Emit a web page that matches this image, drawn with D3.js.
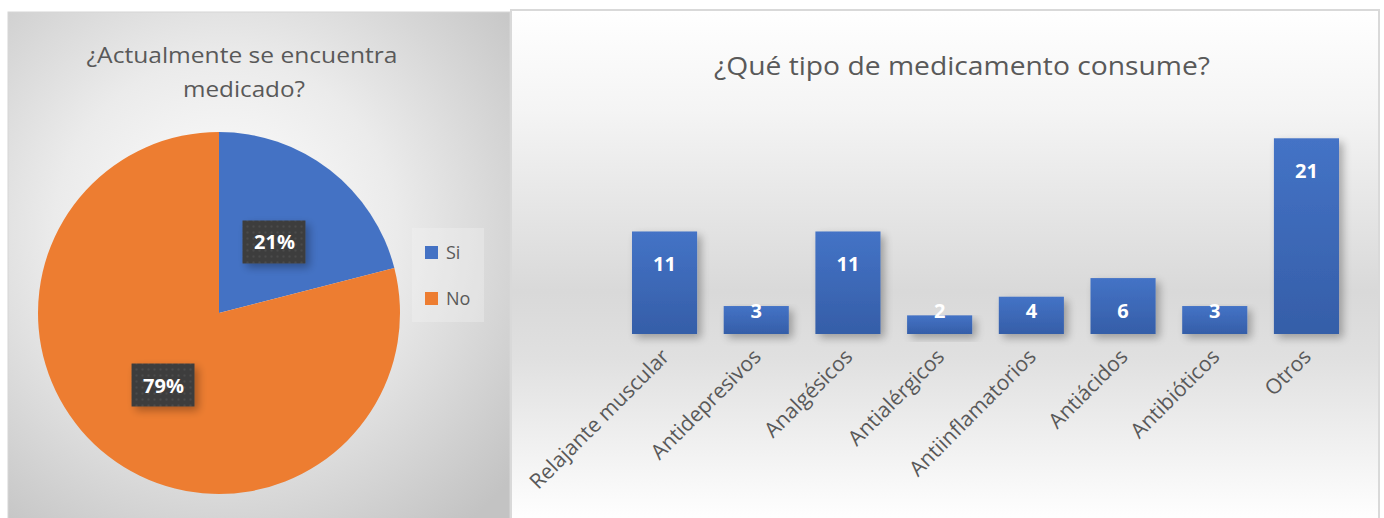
<!DOCTYPE html>
<html>
<head>
<meta charset="utf-8">
<script src="https://cdn.jsdelivr.net/npm/d3@7"></script>
<style>
  body { margin: 0; background: #ffffff; }
  svg { display: block; font-family: "Open Sans", Lato, sans-serif; }
</style>
</head>
<body>
<script>
// pie data
var pieLabels = ["Si", "No"];
var pieValues = [21, 79];
var pieColors = ["#4472c4", "#ed7d31"];

// bar data
var barCats = ["Relajante muscular", "Antidepresivos", "Analgésicos", "Antialérgicos",
               "Antiinflamatorios", "Antiácidos", "Antibióticos", "Otros"];
var barValues = [11, 3, 11, 2, 4, 6, 3, 21];

var W = 1384, H = 518;
var svg = d3.select("body").append("svg").attr("width", W).attr("height", H);
var defs = svg.append("defs");

// backgrounds
var rg = defs.append("radialGradient").attr("id", "pieBg")
  .attr("gradientUnits", "userSpaceOnUse")
  .attr("cx", 225).attr("cy", 230).attr("r", 380);
rg.append("stop").attr("offset", "0%").attr("stop-color", "#ffffff");
rg.append("stop").attr("offset", "45%").attr("stop-color", "#ebebeb");
rg.append("stop").attr("offset", "100%").attr("stop-color", "#c3c3c3");

var lg = defs.append("linearGradient").attr("id", "barBg")
  .attr("x1", 0).attr("y1", 0).attr("x2", 0).attr("y2", 1);
lg.append("stop").attr("offset", "0%").attr("stop-color", "#ffffff");
lg.append("stop").attr("offset", "20%").attr("stop-color", "#f4f4f4");
lg.append("stop").attr("offset", "55%").attr("stop-color", "#d9d9d9");
lg.append("stop").attr("offset", "68%").attr("stop-color", "#e0e0e0");
lg.append("stop").attr("offset", "100%").attr("stop-color", "#ffffff");

var bg = defs.append("linearGradient").attr("id", "barFill")
  .attr("x1", 0).attr("y1", 0).attr("x2", 0).attr("y2", 1);
bg.append("stop").attr("offset", "0%").attr("stop-color", "#4473c6");
bg.append("stop").attr("offset", "100%").attr("stop-color", "#355ea8");

var sh = defs.append("filter").attr("id", "shadow")
  .attr("x", "-20%").attr("y", "-20%").attr("width", "160%").attr("height", "160%");
sh.append("feGaussianBlur").attr("in", "SourceAlpha").attr("stdDeviation", 4);
sh.append("feOffset").attr("dx", 4).attr("dy", 4).attr("result", "b");
sh.append("feComponentTransfer").append("feFuncA").attr("type", "linear").attr("slope", 0.3);
var m = sh.append("feMerge");
m.append("feMergeNode");
m.append("feMergeNode").attr("in", "SourceGraphic");

var pat = defs.append("pattern").attr("id", "dots")
  .attr("patternUnits", "userSpaceOnUse").attr("width", 6).attr("height", 6);
pat.append("rect").attr("width", 6).attr("height", 6).attr("fill", "#3d3d3d");
pat.append("circle").attr("cx", 3).attr("cy", 3).attr("r", 1).attr("fill", "#4f4f4f");

// ---------- left: pie ----------
svg.append("rect").attr("x", 8).attr("y", 12).attr("width", 502).attr("height", 510)
  .attr("fill", "url(#pieBg)").attr("stroke", "#d6d6d6").attr("stroke-width", 1);

svg.append("text").attr("x", 242).attr("y", 63).attr("text-anchor", "middle")
  .attr("font-size", 21).attr("fill", "#595959")
  .attr("textLength", 311).attr("lengthAdjust", "spacingAndGlyphs")
  .text("¿Actualmente se encuentra");
svg.append("text").attr("x", 244).attr("y", 97).attr("text-anchor", "middle")
  .attr("font-size", 21).attr("fill", "#595959")
  .attr("textLength", 122).attr("lengthAdjust", "spacingAndGlyphs")
  .text("medicado?");

var cx = 219, cy = 313, R = 181;
var pie = d3.pie().sort(null).value(function(d){ return d; });
var arcs = pie(pieValues);
var arc = d3.arc().innerRadius(0).outerRadius(R);
var g = svg.append("g").attr("transform", "translate(" + cx + "," + cy + ")");
g.selectAll("path").data(arcs).enter().append("path")
  .attr("d", arc)
  .attr("fill", function(d, i){ return pieColors[i]; });

var total = d3.sum(pieValues);
arcs.forEach(function(d, i){
  var c = arc.centroid(d);
  var lab = g.append("g").attr("transform", "translate(" + c[0] + "," + c[1] + ")");
  lab.append("rect").attr("x", -32).attr("y", -21).attr("width", 63).attr("height", 43)
    .attr("fill", "url(#dots)").attr("filter", "url(#shadow)");
  lab.append("text").attr("text-anchor", "middle").attr("y", 8)
    .attr("font-size", 20).attr("font-weight", "bold").attr("fill", "#ffffff")
    .text(Math.round(pieValues[i] / total * 100) + "%");
});

// legend
svg.append("rect").attr("x", 412).attr("y", 228).attr("width", 72).attr("height", 94)
  .attr("fill", "#f4f4f4").attr("opacity", 0.35);
pieLabels.forEach(function(l, i){
  svg.append("rect").attr("x", 425).attr("y", 246 + i * 46).attr("width", 13).attr("height", 13)
    .attr("fill", pieColors[i]);
  svg.append("text").attr("x", 446).attr("y", 259 + i * 46)
    .attr("font-size", 18).attr("fill", "#595959").text(l);
});

// ---------- right: bars ----------
svg.append("rect").attr("x", 511).attr("y", 10).attr("width", 868).attr("height", 512)
  .attr("fill", "url(#barBg)").attr("stroke", "#d9d9d9").attr("stroke-width", 2);

svg.append("text").attr("x", 962).attr("y", 75).attr("text-anchor", "middle")
  .attr("font-size", 26).attr("fill", "#595959")
  .attr("textLength", 496).attr("lengthAdjust", "spacingAndGlyphs")
  .text("¿Qué tipo de medicamento consume?");

var x = d3.scaleBand().domain(barCats).range([618.7, 1352.3])
  .paddingInner(0.29).paddingOuter(0.145);
var y = d3.scaleLinear().domain([0, 25]).range([334, 101]);

svg.selectAll(".bar").data(barValues).enter().append("rect")
  .attr("class", "bar")
  .attr("x", function(d, i){ return x(barCats[i]); })
  .attr("y", function(d){ return y(d); })
  .attr("width", x.bandwidth())
  .attr("height", function(d){ return y(0) - y(d); })
  .attr("fill", "url(#barFill)")
  .attr("filter", "url(#shadow)");

svg.selectAll(".val").data(barValues).enter().append("text")
  .attr("class", "val")
  .attr("x", function(d, i){ return x(barCats[i]) + x.bandwidth() / 2; })
  .attr("y", function(d){ return Math.min(y(d) + 33, y(0) - 23) + 7; })
  .attr("text-anchor", "middle")
  .attr("font-size", 20).attr("font-weight", "bold").attr("fill", "#ffffff")
  .text(function(d){ return d; });

svg.selectAll(".cat").data(barCats).enter().append("text")
  .attr("class", "cat")
  .attr("transform", function(d){
    return "translate(" + (x(d) + x.bandwidth() / 2 + 6) + ",358) rotate(-45)";
  })
  .attr("text-anchor", "end")
  .attr("font-size", 21).attr("fill", "#595959")
  .text(function(d){ return d; });
</script>
</body>
</html>
